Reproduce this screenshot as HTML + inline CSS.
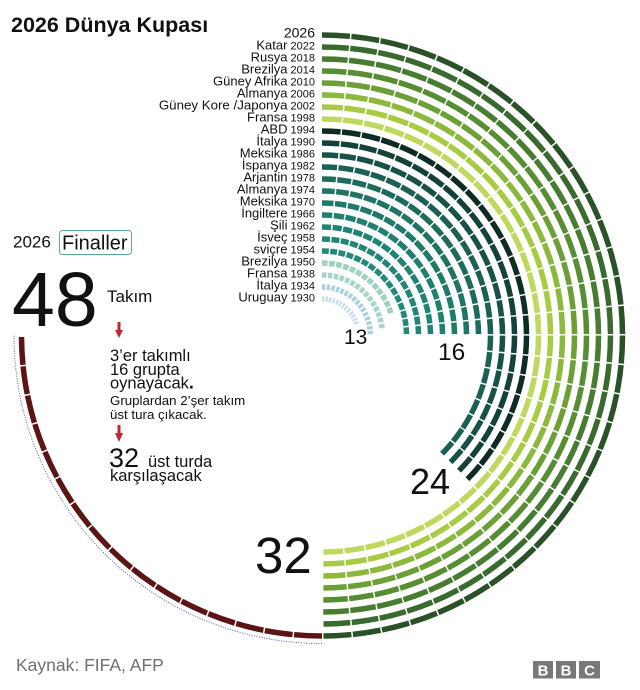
<!DOCTYPE html>
<html>
<head>
<meta charset="utf-8">
<style>
html,body{margin:0;padding:0;background:#fff;}
svg{display:block;font-family:"Liberation Sans",Arial,sans-serif;}
</style>
</head>
<body>
<svg width="640" height="690" viewBox="0 0 640 690" xmlns="http://www.w3.org/2000/svg">
<rect width="640" height="690" fill="#fff"/>
<text x="11" y="32" font-size="21.5" font-weight="bold" fill="#111">2026 Dünya Kupası</text>

<g fill="none" stroke-width="5.5" stroke-linecap="butt">
<!-- 2026 -->
<path d="M322,35 A300.5,300.5 0 0 1 622.5,335.5 A300.5,300.5 0 0 1 322,636" stroke="#2a5128" stroke-dasharray="28,1.5"/>
<path d="M322,636 A300.5,300.5 0 0 1 21.5,335.5" stroke="#5c1515" stroke-dasharray="28,1.5"/>
<!-- 32 teams -->
<path d="M322,47 A288.5,288.5 0 0 1 610.5,335.5 A288.5,288.5 0 0 1 322,624" stroke="#3b6a2f" stroke-dasharray="26.82,1.5"/>
<path d="M322,59 A276.5,276.5 0 0 1 598.5,335.5 A276.5,276.5 0 0 1 322,612" stroke="#477c31" stroke-dasharray="25.65,1.5"/>
<path d="M322,71 A264.5,264.5 0 0 1 586.5,335.5 A264.5,264.5 0 0 1 322,600" stroke="#578d33" stroke-dasharray="24.47,1.5"/>
<path d="M322,83 A252.5,252.5 0 0 1 574.5,335.5 A252.5,252.5 0 0 1 322,588" stroke="#6ca037" stroke-dasharray="23.29,1.5"/>
<path d="M322,95 A240.5,240.5 0 0 1 562.5,335.5 A240.5,240.5 0 0 1 322,576" stroke="#8cb83c" stroke-dasharray="22.11,1.5"/>
<path d="M322,107 A228.5,228.5 0 0 1 550.5,335.5 A228.5,228.5 0 0 1 322,564" stroke="#a7cc44" stroke-dasharray="20.93,1.5"/>
<path d="M322,119 A216.5,216.5 0 0 1 538.5,335.5 A216.5,216.5 0 0 1 322,552" stroke="#bfd95e" stroke-dasharray="19.75,1.5"/>
<!-- 24 teams -->
<path d="M322,131 A204.5,204.5 0 0 1 526.5,335.5 A204.5,204.5 0 0 1 466.6,480.1" stroke="#0f2b25" stroke-dasharray="18.58,1.5"/>
<path d="M322,143 A192.5,192.5 0 0 1 514.5,335.5 A192.5,192.5 0 0 1 458.12,471.62" stroke="#14413a" stroke-dasharray="17.4,1.5"/>
<path d="M322,155 A180.5,180.5 0 0 1 502.5,335.5 A180.5,180.5 0 0 1 449.63,463.13" stroke="#185148" stroke-dasharray="16.22,1.5"/>
<path d="M322,167 A168.5,168.5 0 0 1 490.5,335.5 A168.5,168.5 0 0 1 441.15,454.65" stroke="#1b5f55" stroke-dasharray="15.04,1.5"/>
<!-- 16 teams -->
<path d="M322,179 A156.5,156.5 0 0 1 478.5,335.5" stroke="#1d6a5e" stroke-dasharray="13.86,1.5"/>
<path d="M322,191 A144.5,144.5 0 0 1 466.5,335.5" stroke="#1f7466" stroke-dasharray="12.69,1.5"/>
<path d="M322,203 A132.5,132.5 0 0 1 454.5,335.5" stroke="#1f7a6b" stroke-dasharray="11.51,1.5"/>
<path d="M322,215 A120.5,120.5 0 0 1 442.5,335.5" stroke="#217f6f" stroke-dasharray="10.33,1.5"/>
<path d="M322,227 A108.5,108.5 0 0 1 430.5,335.5" stroke="#218373" stroke-dasharray="9.15,1.5"/>
<path d="M322,239 A96.5,96.5 0 0 1 418.5,335.5" stroke="#228676" stroke-dasharray="7.97,1.5"/>
<path d="M322,251 A84.5,84.5 0 0 1 406.5,335.5" stroke="#238a7a" stroke-dasharray="6.8,1.5"/>
<!-- early -->
<path d="M322,263 A72.5,72.5 0 0 1 391.38,314.45" stroke="#a0d0c0" stroke-dasharray="5.62,1.5"/>
<path d="M322,275 A60.5,60.5 0 0 1 382.21,329.57" stroke="#a8d5cb" stroke-dasharray="4.44,1.5"/>
<path d="M322,287 A48.5,48.5 0 0 1 370.5,335.5" stroke="#a9d0dc" stroke-dasharray="3.26,1.5"/>
<path d="M322,299 A36.5,36.5 0 0 1 356.93,324.9" stroke="#c4dee7" stroke-dasharray="2.2,1.4"/>
</g>
<path d="M322,643.5 A308,308 0 0 1 14,335.5" fill="none" stroke="#5b5ba8" stroke-width="1" stroke-dasharray="1,1.5"/>

<g text-anchor="end" fill="#111">
<text x="315" y="37.5" font-size="14">2026</text>
<text x="315" y="49.5"><tspan font-size="13">Katar</tspan><tspan font-size="11"> 2022</tspan></text>
<text x="315" y="61.5"><tspan font-size="13">Rusya</tspan><tspan font-size="11"> 2018</tspan></text>
<text x="315" y="73.5"><tspan font-size="13">Brezilya</tspan><tspan font-size="11"> 2014</tspan></text>
<text x="315" y="85.5"><tspan font-size="13">Güney Afrika</tspan><tspan font-size="11"> 2010</tspan></text>
<text x="315" y="97.5"><tspan font-size="13">Almanya</tspan><tspan font-size="11"> 2006</tspan></text>
<text x="315" y="109.5"><tspan font-size="13.3">Güney Kore /Japonya</tspan><tspan font-size="11"> 2002</tspan></text>
<text x="315" y="121.5"><tspan font-size="13">Fransa</tspan><tspan font-size="11"> 1998</tspan></text>
<text x="315" y="133.5"><tspan font-size="13">ABD</tspan><tspan font-size="11"> 1994</tspan></text>
<text x="315" y="145.5"><tspan font-size="13">İtalya</tspan><tspan font-size="11"> 1990</tspan></text>
<text x="315" y="157.5"><tspan font-size="13">Meksika</tspan><tspan font-size="11"> 1986</tspan></text>
<text x="315" y="169.5"><tspan font-size="13">İspanya</tspan><tspan font-size="11"> 1982</tspan></text>
<text x="315" y="181.5"><tspan font-size="13">Arjantin</tspan><tspan font-size="11"> 1978</tspan></text>
<text x="315" y="193.5"><tspan font-size="13">Almanya</tspan><tspan font-size="11"> 1974</tspan></text>
<text x="315" y="205.5"><tspan font-size="13">Meksika</tspan><tspan font-size="11"> 1970</tspan></text>
<text x="315" y="217.5"><tspan font-size="13">İngiltere</tspan><tspan font-size="11"> 1966</tspan></text>
<text x="315" y="229.5"><tspan font-size="13">Şili</tspan><tspan font-size="11"> 1962</tspan></text>
<text x="315" y="241.5"><tspan font-size="13">İsveç</tspan><tspan font-size="11"> 1958</tspan></text>
<text x="315" y="253.5"><tspan font-size="13">sviçre</tspan><tspan font-size="11"> 1954</tspan></text>
<text x="315" y="265.5"><tspan font-size="13">Brezilya</tspan><tspan font-size="11"> 1950</tspan></text>
<text x="315" y="277.5"><tspan font-size="13">Fransa</tspan><tspan font-size="11"> 1938</tspan></text>
<text x="315" y="289.5"><tspan font-size="13">İtalya</tspan><tspan font-size="11"> 1934</tspan></text>
<text x="315" y="301.5"><tspan font-size="13">Uruguay</tspan><tspan font-size="11"> 1930</tspan></text>
</g>

<g fill="#111">
<text x="344" y="344" font-size="21">13</text>
<text x="438" y="360" font-size="24.5">16</text>
<text x="410" y="494" font-size="36">24</text>
<text x="255" y="573" font-size="51">32</text>

<text x="13" y="247.5" font-size="17">2026</text>
<rect x="59.5" y="230.5" width="72" height="24" rx="3" fill="none" stroke="#5aa8a0" stroke-width="1"/>
<text x="62" y="249.5" font-size="20">Finaller</text>
<text x="12" y="326" font-size="77">48</text>
<text x="107" y="302" font-size="17">Takım</text>

<text x="110" y="361" font-size="16.5">3’er takımlı</text>
<text x="110" y="375" font-size="16.5">16 grupta</text>
<text x="110" y="388.5" font-size="16.5">oynayacak<tspan font-weight="bold" font-size="18">.</tspan></text>
<text x="110" y="405" font-size="13.3">Gruplardan 2’şer takım</text>
<text x="110" y="419" font-size="13.3">üst tura çıkacak.</text>
<text x="109" y="467" font-size="27">32</text>
<text x="148" y="467" font-size="16.5">üst turda</text>
<text x="110" y="481" font-size="16.5">karşılaşacak</text>
</g>

<g fill="#c0282d">
<rect x="117.5" y="322" width="3" height="9"/>
<polygon points="115,330 123,330 119,338"/>
<rect x="117.5" y="425" width="3" height="9"/>
<polygon points="115,433 123,433 119,442"/>
</g>

<text x="16" y="671" font-size="17.5" fill="#707070">Kaynak: FIFA, AFP</text>
<g>
<rect x="533" y="661" width="20" height="17.5" fill="#787878"/>
<rect x="556" y="661" width="20" height="17.5" fill="#787878"/>
<rect x="579" y="661" width="21" height="17.5" fill="#787878"/>
<g fill="#fff" font-size="15" font-weight="bold" text-anchor="middle">
<text x="543" y="675.5">B</text>
<text x="566" y="675.5">B</text>
<text x="589.5" y="675.5">C</text>
</g>
</g>
</svg>
</body>
</html>
